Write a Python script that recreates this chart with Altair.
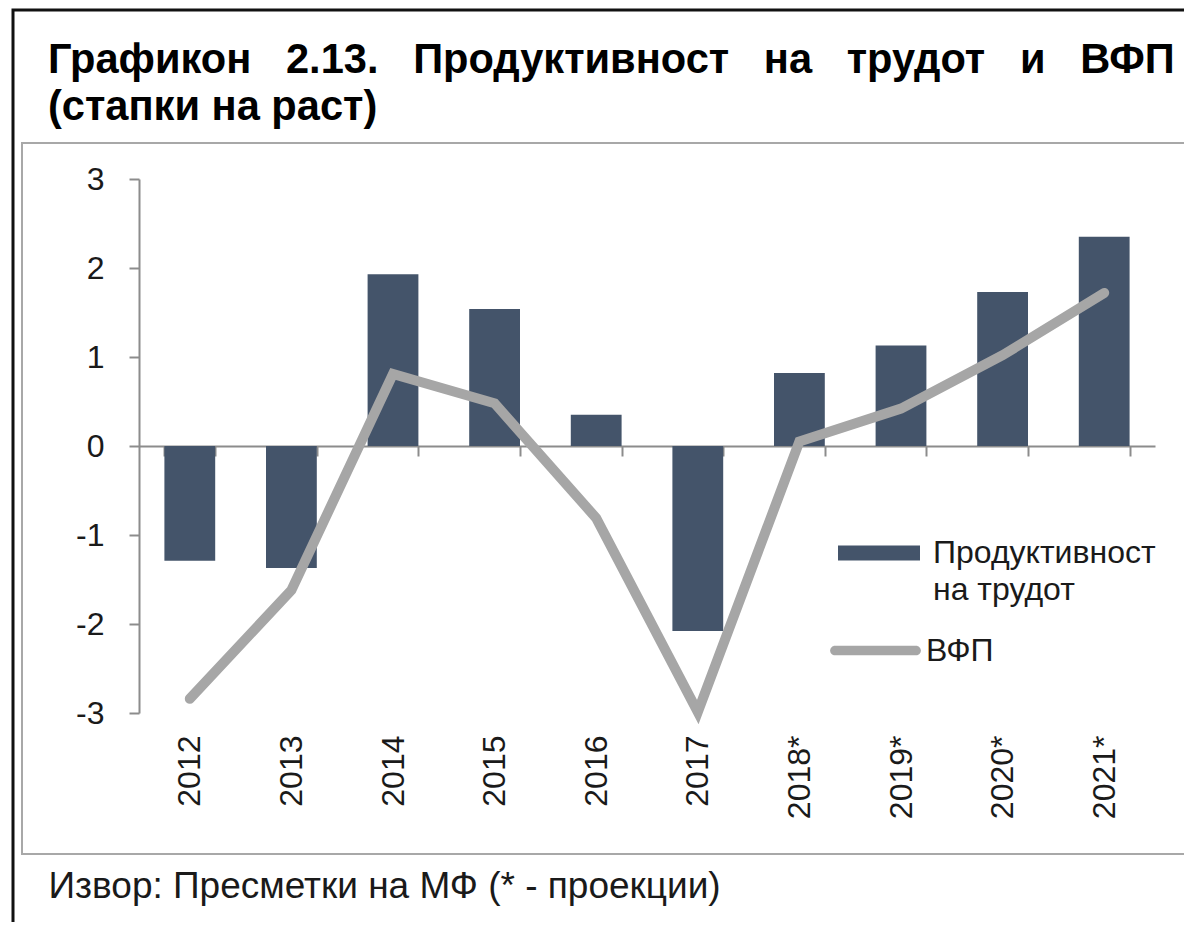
import altair as alt
import pandas as pd

years = ["2012", "2013", "2014", "2015", "2016", "2017", "2018*", "2019*", "2020*", "2021*"]
labour_productivity = [-1.29, -1.37, 1.93, 1.54, 0.35, -2.08, 0.82, 1.13, 1.73, 2.35]
tfp = [-2.84, -1.62, 0.81, 0.48, -0.81, -2.99, 0.05, 0.42, 1.02, 1.72]

series_bar = "Продуктивност на трудот"
series_line = "ВФП"
y_ticks = [-3, -2, -1, 0, 1, 2, 3]

GAP = "\u00a0\u00a0\u00a0"
title_words = ["Графикон", "2.13.", "Продуктивност", "на", "трудот", "и", "ВФП"]
title_line1 = GAP.join(title_words)
title_line2 = "(стапки на раст)"
source_text = "Извор: Пресметки на МФ (* - проекции)"

df = pd.DataFrame({
    "year": years,
    "lp": labour_productivity,
    "tfp": tfp,
    "s_bar": series_bar,
    "s_line": series_line,
})

W, H = 1016, 534
OX, OY = 139, 179  # plot origin on page
FONT = "Liberation Sans, Arial, sans-serif"
AXC = "#8c8c8c"
TXT = "#1a1a1a"

x_axis = alt.Axis(
    orient="bottom", offset=-H / 2, tickBand="extent", ticks=True, tickSize=10,
    tickColor=AXC, tickWidth=2, domainColor=AXC, domainWidth=2,
    labelAngle=270, labelAlign="right", labelBaseline="middle", labelPadding=279,
    labelFont=FONT, labelFontSize=32, labelColor=TXT,
    title=source_text, titleFont=FONT, titleFontSize=37, titleFontWeight="normal",
    titleColor=TXT, titleAnchor="start", titleAlign="left", titleBaseline="alphabetic",
    titleX=48 - OX, titleY=897 - (OY + H / 2),
)
x_enc = alt.X("year:N", sort=years,
              scale=alt.Scale(paddingInner=0.5, paddingOuter=0.25), axis=x_axis)

y_axis = alt.Axis(
    values=y_ticks, grid=False, tickSize=10, tickColor=AXC, tickWidth=2,
    domainColor=AXC, domainWidth=2, labelFont=FONT, labelFontSize=32,
    labelColor=TXT, labelPadding=25, title=None, labelExpr="toString(datum.value)",
)
y_scale = alt.Scale(domain=[-3, 3], nice=False, zero=False)

one = alt.Data(values=[{}])
outer = alt.Chart(one).mark_rect(filled=False, stroke="#111111", strokeWidth=3).encode(
    x=alt.value(13 - OX), x2=alt.value(1300 - OX), y=alt.value(10 - OY), y2=alt.value(1100 - OY))
inner = alt.Chart(one).mark_rect(filled=False, stroke="#a8a8a8", strokeWidth=2).encode(
    x=alt.value(22 - OX), x2=alt.value(1185 - OX), y=alt.value(143 - OY), y2=alt.value(854 - OY))

title = alt.Chart(one).mark_text(
    align="left", baseline="alphabetic", font=FONT, fontSize=41.6, fontWeight="bold",
    color="#000000", lineHeight=47,
).encode(x=alt.value(48 - OX), y=alt.value(73 - OY), text=alt.value([title_line1, title_line2]))

bars = alt.Chart(df).mark_bar().encode(
    x=x_enc,
    y=alt.Y("lp:Q", scale=y_scale, axis=y_axis),
    color=alt.Color("s_bar:N", scale=alt.Scale(domain=[series_bar], range=["#44546A"]),
                    legend=alt.Legend(
                        orient="none", legendX=699, legendY=333, title=None,
                        symbolType="M-1,-0.18L1,-0.18L1,0.18L-1,0.18Z", symbolSize=6724,
                        symbolStrokeWidth=0, labelFont=FONT, labelFontSize=32, labelColor=TXT,
                        labelOffset=13, labelLimit=0,
                        labelExpr="datum.label == 'Продуктивност на трудот' ? ['Продуктивност', 'на трудот'] : datum.label",
                    )),
)

line = alt.Chart(df).mark_line(strokeWidth=10, strokeCap="round").encode(
    x=x_enc,
    y=alt.Y("tfp:Q", scale=y_scale, axis=y_axis),
    color=alt.Color("s_line:N", scale=alt.Scale(domain=[series_line], range=["#A6A6A6"]),
                    legend=alt.Legend(
                        orient="none", legendX=696, legendY=431, title=None,
                        symbolType="M-1,-0.12L1,-0.12A0.12,0.12 0 0 1 1,0.12L-1,0.12A0.12,0.12 0 0 1 -1,-0.12Z",
                        symbolSize=6561, symbolFillColor="#A6A6A6", symbolStrokeWidth=0,
                        labelFont=FONT, labelFontSize=32, labelColor=TXT, labelOffset=10,
                    )),
)

chart = alt.layer(outer, inner, title, bars, line).resolve_scale(color="independent").properties(
    width=W, height=H,
    padding={"left": 131, "top": 171, "right": 29, "bottom": 209},
    autosize=alt.AutoSizeParams(type="none"),
).configure(
    background="white", style={"guide-label": {"lineHeight": 37}}
).configure_view(stroke=None)

chart.save("out.html", embed_options={"renderer": "svg", "actions": False})
